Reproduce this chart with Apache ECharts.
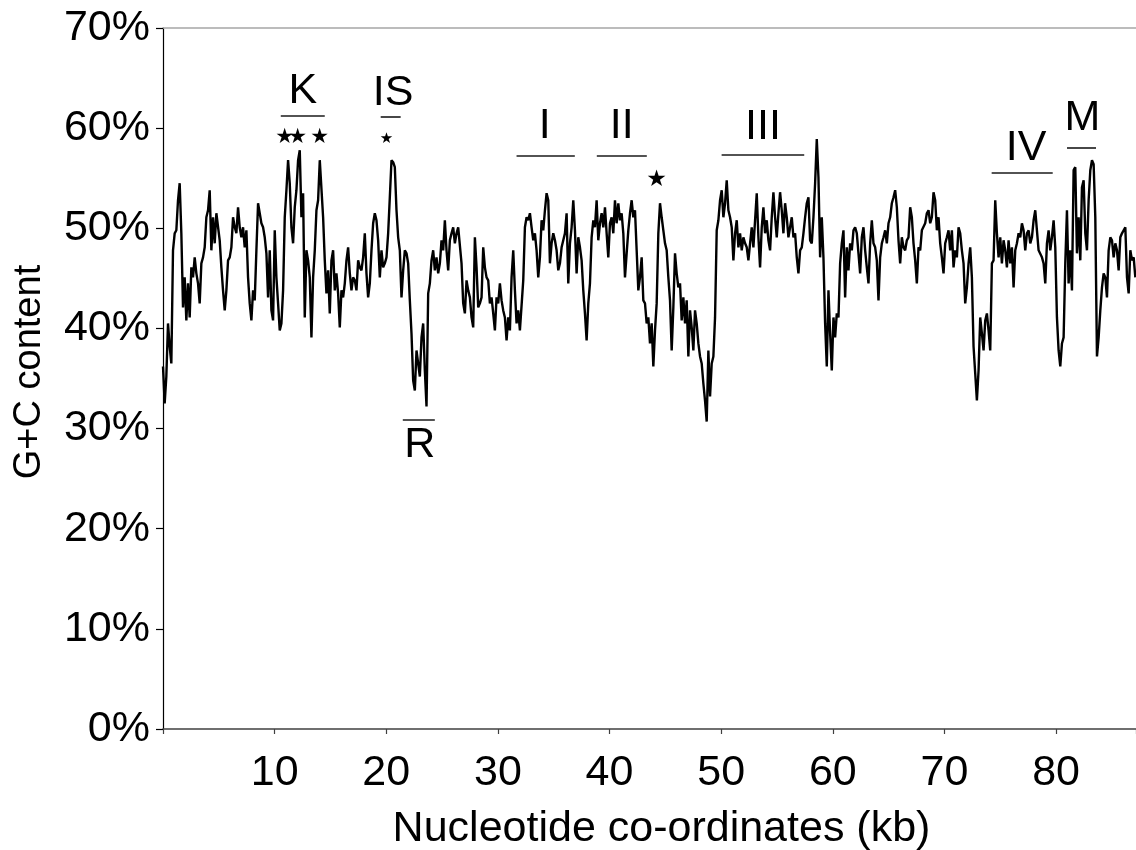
<!DOCTYPE html>
<html>
<head>
<meta charset="utf-8">
<script src="https://cdn.jsdelivr.net/npm/echarts@6/dist/echarts.min.js"></script>
<style>
html,body{margin:0;padding:0;background:#fff;}
#chart{width:1136px;height:850px;}
</style>
</head>
<body>
<div id="chart"></div>
<script>
// Sampling interval along the sequence (kb)
const stepKb = 0.1494;
const xMaxKb = 87.16;

// G+C content (%), 0 – 26.5 kb
const gcA = [
36.2,32.5,35.2,40.5,38.2,36.5,47.8,49.5,49.8,52.8,
54.5,49.5,42.1,45.1,40.8,44.5,41.1,46.1,45.1,47.1,
45.5,44.5,42.5,46.5,47.1,48.1,51.1,51.8,53.8,47.8,
51.1,48.5,51.5,51.5,48.8,46.1,43.8,41.8,43.8,46.8,
47.1,48.1,51.1,50.1,49.5,52.1,50.1,49.1,50.1,48.1,
49.8,45.1,42.5,40.8,43.8,42.8,47.8,52.5,51.5,50.5,
50.1,49.1,47.5,43.1,47.8,41.8,40.8,49.8,45.1,42.5,
39.8,40.5,43.8,51.1,53.8,56.8,54.5,50.1,48.5,52.1,
53.8,56.8,57.8,51.1,53.5,41.1,47.8,46.8,45.1,39.1,
45.1,47.8,51.8,52.8,56.8,56.8,51.1,46.8,43.5,45.8,
41.5,46.8,47.8,43.8,45.5,43.5,40.1,43.8,43.1,44.5,
46.8,48.1,45.5,43.8,45.1,44.8,43.8,46.8,46.1,45.8,
47.1,49.5,45.5,43.1,44.5,47.8,50.5,51.5,50.8,48.8,
45.1,47.8,46.1,46.5,47.1,49.5,53.1,56.8,56.6,56.1,
51.8,49.1,47.8,43.1,45.8,47.8,47.5,46.5,42.8,39.5,
34.8,33.8,37.8,36.5,35.2,39.1,40.5,35.8,32.2,43.5,
44.5,46.8,47.8,45.8,47.1,45.5,46.5,48.8,47.8,50.8,
47.8,45.8,48.8,49.5,50.1,48.5,49.5,50.1
];
// 26.6 – 56.0 kb
const gcB = [
50.1,46.5,42.5,41.5,44.8,43.8,43.1,41.1,40.1,49.1,
46.1,42.1,42.5,43.1,48.1,46.1,45.1,44.8,42.5,43.1,
41.5,39.8,43.1,42.5,44.5,42.8,41.8,41.1,38.8,41.1,
39.8,45.1,47.8,43.8,40.5,41.8,39.8,39.8,44.8,50.1,
51.1,50.8,51.5,50.1,48.8,49.5,47.8,45.1,47.1,50.8,
49.8,51.8,53.5,52.8,46.5,48.5,49.5,48.8,47.8,45.8,
46.5,48.1,48.8,49.5,51.5,44.5,48.5,50.1,52.8,49.8,
45.5,49.1,48.1,46.8,43.8,41.5,38.8,42.5,44.5,49.1,
50.8,50.1,52.8,48.8,50.5,51.5,50.1,52.1,49.5,47.1,
50.5,51.1,49.5,52.8,50.5,52.5,50.8,51.5,49.5,45.1,
47.5,49.8,51.5,52.8,51.1,51.8,47.8,43.8,45.1,47.1,
42.8,42.5,40.5,41.1,38.5,40.5,36.2,39.8,42.5,49.5,
52.5,51.1,49.8,48.5,47.8,45.1,42.8,37.8,42.1,47.5,
45.5,44.1,44.5,40.8,43.1,40.5,42.8,37.2,41.8,40.1,
37.8,41.8,40.5,38.5,37.2,36.5,34.5,32.8,30.7,37.8,
33.2,36.5,37.2,41.1,49.8,50.8,52.8,53.8,51.1,52.5,
54.8,51.8,51.1,50.1,46.8,49.5,50.8,48.1,49.5,47.8,
49.1,48.5,48.1,46.8,48.5,50.1,48.1,50.8,53.5,49.1,
46.1,50.1,52.1,49.5,50.8,48.8,47.8,51.1,53.6,51.1,
49.1,51.5,53.6,51.8,49.5,52.5,51.1,49.1
];
// 56.2 – 87.1 kb
const gcC = [
50.1,51.1,49.1,49.5,47.1,45.5,47.8,48.1,49.5,51.1,
52.5,53.1,48.8,48.5,51.1,54.5,58.9,55.1,47.1,51.1,
47.1,40.5,36.2,43.8,39.5,35.8,41.1,39.1,41.5,41.1,
46.5,48.5,49.8,43.1,48.1,45.8,48.5,47.8,49.8,50.1,
49.5,47.5,45.5,49.1,50.1,47.8,46.1,44.5,48.5,50.8,
48.5,48.1,46.8,42.8,47.1,48.5,49.1,49.8,48.5,50.5,
51.1,52.5,53.1,53.8,52.1,48.8,46.5,49.1,48.1,47.8,
48.8,49.1,52.1,51.1,48.5,46.8,44.5,48.1,47.8,49.8,
49.8,50.5,51.5,51.8,50.5,51.1,53.6,52.8,49.8,51.1,
48.5,47.1,45.5,48.5,49.1,49.8,47.8,49.8,46.1,47.8,
47.1,50.1,49.5,47.8,46.5,42.5,44.1,46.5,48.1,45.1,
38.2,35.5,32.8,35.8,41.1,39.5,37.8,40.8,41.5,39.8,
37.8,46.5,46.8,52.8,49.5,47.1,49.1,46.5,48.8,47.8,
46.1,48.8,46.5,48.1,44.1,47.8,48.5,49.5,49.1,50.5,
49.8,47.8,49.5,49.8,48.5,49.1,50.8,51.8,49.8,47.8,
47.8,47.1,46.5,44.5,48.5,49.8,47.8,49.1,50.8,48.1,
41.1,37.8,36.2,38.5,39.1,46.5,51.8,44.5,47.8,43.8,
55.8,56.1,47.5,51.1,46.8,54.1,54.8,49.5,47.8,52.8,
55.8,56.8,56.4,51.1,37.2,39.1,41.8,44.1,45.5,45.1,
43.1,47.8,49.1,48.8,47.1,48.5,47.8,45.8,49.1,49.5,
49.8,50.1,45.1,43.5,47.8,46.8,47.1,45.1
];

// Region labels (text), their centres (kb, %)
const regionNames = ['K','IS','I','II','III','IV','M','R'];
const regionTextKb = [12.52,20.61,34.2,41.1,53.74,77.31,82.37,23.0];
const regionTextPct = [63.7,63.5,60.2,60.2,60.1,58.0,61.0,28.3];
// Region bars (kb from, kb to, % level)
const barFromKb = [10.55,19.5,31.67,38.86,50.04,74.23,80.98,21.48];
const barToKb   = [14.49,21.29,36.89,43.34,57.44,79.70,83.58,24.35];
const barPct    = [61.2,61.1,57.26,57.24,57.34,55.56,58.08,30.91];
// Asterisks (kb, %, size)
const starKb   = [10.9,12.07,14.04,20.02,44.21];
const starPct  = [59.1,59.1,59.1,58.9,54.86];
const starSize = [21,21,21,15,23];

// Axis ticks
const yTicksPct = [0,10,20,30,40,50,60,70];
const xTickStepKb = 10;

const FONT = '"Liberation Sans", Arial, sans-serif';

const gc = gcA.concat(gcB, gcC);
const lineData = gc.map((v, i) => [+(i * stepKb).toFixed(4), v]);

const chart = echarts.init(document.getElementById('chart'), null, {renderer: 'canvas'});
const option = {
  animation: false,
  backgroundColor: '#ffffff',
  grid: {left: 163, right: 0, top: 28, bottom: 121, containLabel: false, outerBoundsMode: 'none'},
  xAxis: [{
    type: 'value', min: 0, max: xMaxKb, interval: xTickStepKb, position: 'bottom',
    axisLine: {show: true, onZero: false, lineStyle: {color: '#404040', width: 1.5}},
    axisTick: {show: true, length: 5, lineStyle: {color: '#404040', width: 1.2}},
    axisLabel: {
      fontSize: 43, color: '#000', margin: 23, fontFamily: FONT,
      formatter: v => (v > 0 && Math.abs(v % 10) < 1e-9) ? String(v) : ''
    },
    splitLine: {show: false},
    name: 'Nucleotide co-ordinates (kb)', nameLocation: 'middle', nameGap: 79,
    nameTextStyle: {fontSize: 43, color: '#000', fontFamily: FONT, padding: [0, 0, 0, 24]}
  }, {
    type: 'value', min: 0, max: xMaxKb, position: 'top',
    axisLine: {show: true, onZero: false, lineStyle: {color: '#a6a6a6', width: 1.5}},
    axisTick: {show: false}, axisLabel: {show: false}, splitLine: {show: false}
  }],
  yAxis: {
    type: 'value', min: yTicksPct[0], max: yTicksPct[yTicksPct.length - 1], interval: 10,
    axisLine: {show: true, lineStyle: {color: '#000', width: 1.2}},
    axisTick: {show: true, length: 7, lineStyle: {color: '#000', width: 1.2}},
    axisLabel: {fontSize: 43, color: '#000', margin: 13, fontFamily: FONT,
      formatter: '{value}%', padding: [7, 0, 0, 0]},
    splitLine: {show: false},
    name: 'G+C content', nameLocation: 'middle', nameGap: 114,
    nameTextStyle: {fontSize: 38, color: '#000', fontFamily: FONT, padding: [0, 0, 0, 13]}
  },
  series: [{
    type: 'line', name: 'G+C', data: lineData, symbol: 'none', silent: true,
    lineStyle: {color: '#000', width: 2.4}, z: 2
  }, {
    type: 'scatter', name: 'regions', silent: true, symbolSize: 1,
    itemStyle: {color: 'rgba(0,0,0,0)', opacity: 1},
    data: regionNames.map((t, i) => ({name: t, value: [regionTextKb[i], regionTextPct[i]]})),
    label: {show: true, position: 'inside', formatter: '{b}', fontSize: 43, color: '#000',
      opacity: 1, fontFamily: FONT, textBorderWidth: 0},
    markLine: {
      silent: true, symbol: 'none', animation: false,
      label: {show: false},
      lineStyle: {color: '#1a1a1a', width: 1.6, type: 'solid', opacity: 1},
      data: barFromKb.map((s, i) => [{coord: [s, barPct[i]]}, {coord: [barToKb[i], barPct[i]]}])
    },
    z: 3
  }, {
    type: 'scatter', name: 'stars', silent: true, symbolSize: 1,
    itemStyle: {color: 'rgba(0,0,0,0)', opacity: 1},
    data: starKb.map((k, i) => ({value: [k, starPct[i]], label: {fontSize: starSize[i]}})),
    label: {show: true, position: 'inside', formatter: '\u2605', color: '#000', opacity: 1,
      fontFamily: '"DejaVu Sans", sans-serif', textBorderWidth: 0},
    z: 3
  }]
};
chart.setOption(option);
</script>
</body>
</html>
